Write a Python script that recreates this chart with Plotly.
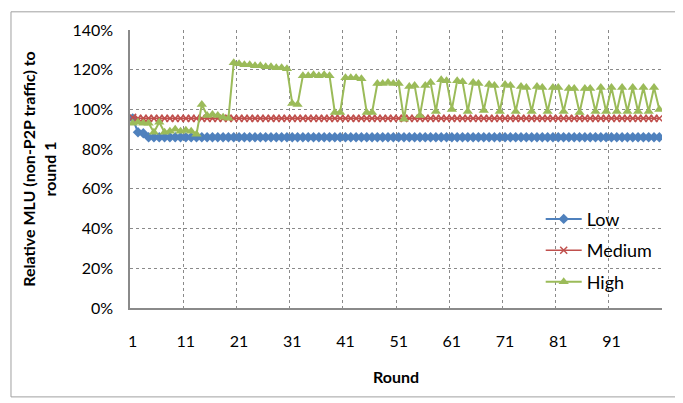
import plotly.graph_objects as go

rounds = list(range(1, 101))

low = [95.5, 88.5, 88, 86, 86] + [86] * 95

medium = [96] + [95.5] * 99

high = [
    93, 93.5, 93, 93, 88.5, 93.5, 88.5, 89, 90, 89,
    89.5, 89, 87.5, 102.5, 97, 97.5, 97, 96, 95.5, 123.5,
    123, 122.5, 122.5, 122, 122, 121.5, 121.5, 121, 121, 120.5,
    103, 102.5, 117, 117, 117.5, 117, 117.5, 117, 98.5, 98.5,
    116, 116, 116, 115.5, 98.5, 98.5, 113, 113, 113.5, 113,
    113, 95, 111.5, 112, 97, 112, 113.5, 99, 115, 114.5,
    100, 114.5, 114, 99, 113.5, 113, 99.5, 112.5, 112, 99,
    112.5, 112, 99, 111.5, 111, 99, 111.5, 111, 99, 111,
    111, 99, 110.5, 110.5, 98.5, 110.5, 110.5, 99, 111, 99,
    111, 99, 111, 99, 111, 99, 111, 99, 111, 100,
]

x_tick_vals = [1, 11, 21, 31, 41, 51, 61, 71, 81, 91]
x_tick_text = [str(v) for v in x_tick_vals]

FONT = "Lato"
GRID = "#8a8a8a"
AXIS = "#8a8a8a"

fig = go.Figure()
fig.add_trace(go.Scatter(
    x=rounds, y=low, name="Low", mode="lines+markers", legendgroup="a",
    line=dict(color="#4F81BD", width=2),
    marker=dict(symbol="diamond", size=8, color="#4F81BD"),
))
fig.add_trace(go.Scatter(
    x=rounds, y=medium, name="Medium", mode="lines+markers", legendgroup="b",
    line=dict(color="#C0504D", width=1.5),
    marker=dict(symbol="x-thin", size=7, color="#C0504D",
                line=dict(color="#C0504D", width=1.5)),
))
fig.add_trace(go.Scatter(
    x=rounds, y=high, name="High", mode="lines+markers", legendgroup="c",
    line=dict(color="#9BBB59", width=2),
    marker=dict(symbol="triangle-up", size=9, color="#9BBB59"),
))

fig.update_layout(
    width=675, height=395,
    margin=dict(l=122, r=21, t=17, b=95),
    paper_bgcolor="white", plot_bgcolor="white",
    font=dict(family=FONT, size=16, color="#000000"),
    showlegend=True,
    legend=dict(
        x=0.772, y=0.386, xanchor="left", yanchor="top",
        font=dict(family=FONT, size=18, color="#000000"),
        tracegroupgap=5, itemwidth=36, bgcolor="rgba(0,0,0,0)",
    ),
    xaxis=dict(
        range=[0.5, 100.5],
        tickmode="array", tickvals=x_tick_vals, ticktext=x_tick_text,
        ticks="outside", ticklen=18, tickcolor="rgba(0,0,0,0)",
        showgrid=False, zeroline=False,
        showline=True, linecolor=AXIS, linewidth=1.5,
        minor=dict(tick0=0.5, dtick=10, showgrid=True, gridcolor=GRID,
                   griddash="dot", gridwidth=1),
        title=dict(text="<b>Round</b>", font=dict(family=FONT, size=16), standoff=23),
    ),
    yaxis=dict(
        range=[0, 140], dtick=20, ticksuffix="%",
        ticks="outside", ticklen=12, tickcolor="rgba(0,0,0,0)",
        showgrid=True, gridcolor=GRID, griddash="dot", gridwidth=1,
        zeroline=False, showline=True, linecolor=AXIS, linewidth=1.5,
        title=dict(text="<b>Relative MLU (non-P2P traffic) to<br>round 1</b>",
                   font=dict(family=FONT, size=16), standoff=12),
    ),
    shapes=[dict(
        type="rect", xref="paper", yref="paper",
        x0=-0.2237, x1=1.0338, y0=-0.3198, y1=1.0654,
        line=dict(color="#a0a0a0", width=1), fillcolor="rgba(0,0,0,0)",
    )],
)

fig.write_html("out.html")
